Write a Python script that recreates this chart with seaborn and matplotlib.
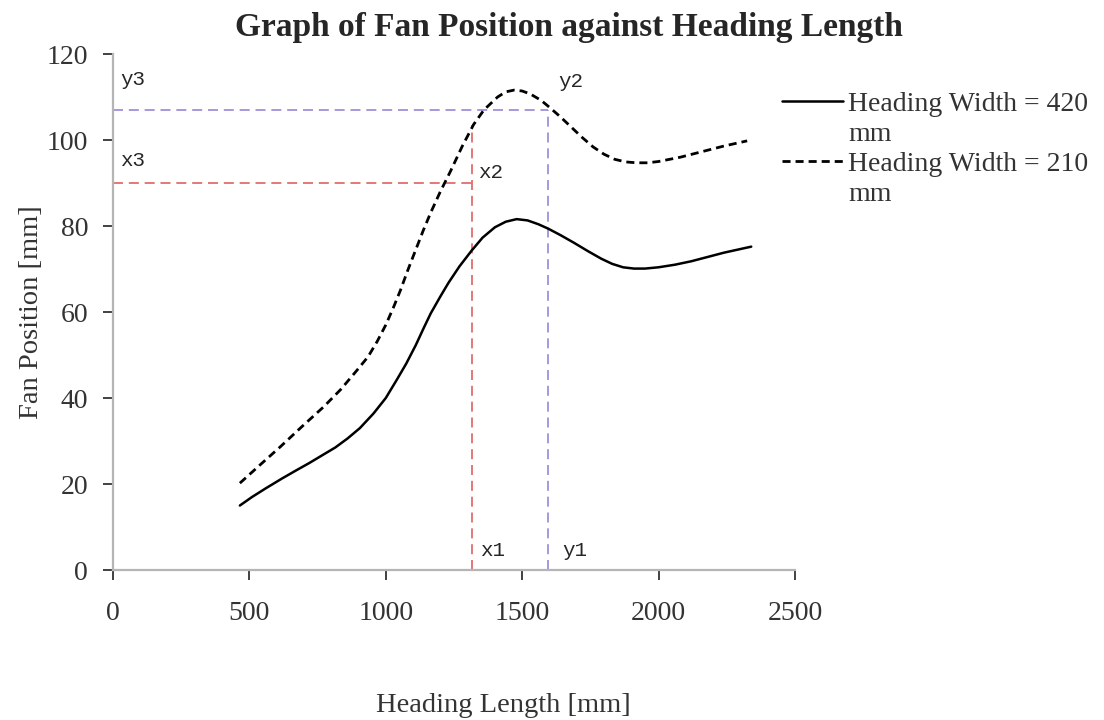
import matplotlib
matplotlib.use("Agg")
import matplotlib.pyplot as plt
from matplotlib.lines import Line2D
import seaborn as sns
import pandas as pd

# Fan position measurements for the two heading widths
length_420 = [465, 510, 560, 620, 675, 720, 770, 815, 860, 905, 955, 1000, 1040, 1075,
              1110, 1140, 1165, 1200, 1230, 1270, 1315, 1355, 1400, 1440, 1480, 1520,
              1560, 1595, 1640, 1690, 1740, 1790, 1830, 1870, 1910, 1950, 2000, 2060,
              2120, 2180, 2240, 2290, 2340]
fan_420 = [15.0, 17.0, 19.0, 21.3, 23.3, 24.9, 26.8, 28.5, 30.6, 33.0, 36.4, 40.0, 44.2, 48.0,
           52.3, 56.4, 59.7, 63.6, 66.8, 70.6, 74.3, 77.3, 79.7, 81.0, 81.6, 81.3,
           80.4, 79.4, 77.9, 76.1, 74.2, 72.4, 71.2, 70.4, 70.1, 70.1, 70.4, 71.0,
           71.8, 72.8, 73.8, 74.5, 75.2]

length_210 = [465, 540, 614, 690, 773, 835, 895, 935, 968, 1000, 1029, 1054, 1080, 1110,
              1137, 1164, 1200, 1237, 1280, 1322, 1360, 1410, 1440, 1470, 1500, 1530,
              1570, 1604, 1640, 1680, 1720, 1760, 1800, 1840, 1880, 1920, 1960, 2000,
              2080, 2160, 2240, 2325]
fan_210 = [20.2, 24.5, 28.7, 33.2, 38.0, 42.0, 46.5, 49.6, 53.1, 57.0, 61.2, 65.1, 69.6, 74.5,
           78.9, 83.0, 88.0, 92.7, 98.5, 103.6, 107.0, 110.0, 111.2, 111.6, 111.4, 110.7,
           109.2, 107.4, 105.4, 103.0, 100.6, 98.4, 96.7, 95.5, 94.9, 94.7, 94.7, 95.0,
           96.0, 97.3, 98.6, 99.8]

series_labels = ["Heading Width = 420", "Heading Width = 210"]
unit_label = "mm"

# Read-off construction lines
x1_length, x3_fan, x2_fan = 1315, 90, 103.6
y1_length, y3_fan = 1595, 107

x_ticks = [0, 500, 1000, 1500, 2000, 2500]
y_ticks = [0, 20, 40, 60, 80, 100, 120]

sns.set_theme(style="white")
plt.rcParams["font.family"] = ["Liberation Serif", "DejaVu Serif"]

df_420 = pd.DataFrame({"length": length_420, "fan": fan_420})
df_210 = pd.DataFrame({"length": length_210, "fan": fan_210})

fig = plt.figure(figsize=(11.04, 7.2), dpi=100)
ax = fig.add_axes([0.1024, 0.2083, 0.6176, 0.7167])

red = "#e06060"
purple = "#9a86d6"
guide = dict(lw=1.2, dashes=(6, 3.5), solid_capstyle="butt")
ax.plot([0, x1_length], [x3_fan, x3_fan], color=red, **guide)
ax.plot([x1_length, x1_length], [0, x2_fan], color=red, **guide)
ax.plot([0, y1_length], [y3_fan, y3_fan], color=purple, **guide)
ax.plot([y1_length, y1_length], [0, y3_fan], color=purple, **guide)

sns.lineplot(data=df_420, x="length", y="fan", ax=ax, color="black", lw=1.8,
             estimator=None, sort=False, legend=False)
line_420 = ax.lines[-1]
sns.lineplot(data=df_210, x="length", y="fan", ax=ax, color="black", lw=2.0,
             estimator=None, sort=False, legend=False)
line_210 = ax.lines[-1]
line_210.set_dashes((2.9, 1.8))
for ln in (line_420, line_210):
    ln.set_solid_joinstyle("round")
    ln.set_dash_joinstyle("round")

mono = ["Liberation Mono", "DejaVu Sans Mono"]
marks = [(1347, 4.6, "x1"), (1648, 4.6, "y1"), (1340, 92.5, "x2"),
         (1633, 113.5, "y2"), (27, 114, "y3"), (27, 95.3, "x3")]
for mx, my, mt in marks:
    ax.text(mx, my, mt, family=mono, fontsize=15, va="center", ha="left")

ax.set_xlim(0, 2500)
ax.set_ylim(0, 120)
ax.set_xticks(x_ticks)
ax.set_yticks(y_ticks)
ax.tick_params(axis="both", labelsize=20, colors="#333333", length=7, width=1.3,
               direction="out", bottom=True, left=True)
ax.tick_params(axis="x", pad=15)
ax.tick_params(axis="y", pad=11)
for t in ax.get_xticklines() + ax.get_yticklines():
    t.set_color("#b5b5b5")
for side in ["top", "right"]:
    ax.spines[side].set_visible(False)
for side in ["left", "bottom"]:
    ax.spines[side].set_color("#b5b5b5")
    ax.spines[side].set_linewidth(1.6)

ax.set_xlabel("Heading Length [mm]", fontsize=20.5, color="#333333", va="center")
ax.xaxis.set_label_coords(0.573, -0.262)
ax.set_ylabel("Fan Position [mm]", fontsize=20.5, color="#333333", va="center")
ax.yaxis.set_label_coords(-0.12, 0.5)
fig.text(0.515, 0.962, "Graph of Fan Position against Heading Length",
         ha="center", va="center", fontsize=24, fontweight="bold")

blank = Line2D([], [], color="none")
handles = [Line2D([], [], color="black", lw=1.8), blank,
           Line2D([], [], color="black", lw=2.0, dashes=(2.9, 1.8)), blank]
labels = [series_labels[0], unit_label, series_labels[1], unit_label]
leg = ax.legend(handles, labels, loc="upper left", bbox_to_anchor=(0.708, 0.873),
                bbox_transform=fig.transFigure, frameon=False, fontsize=20,
                handlelength=2.2, handletextpad=0.2, labelspacing=0.17,
                borderaxespad=0, borderpad=0)
for txt in leg.get_texts():
    txt.set_color("#333333")

fig.savefig("out.png", dpi=100)
